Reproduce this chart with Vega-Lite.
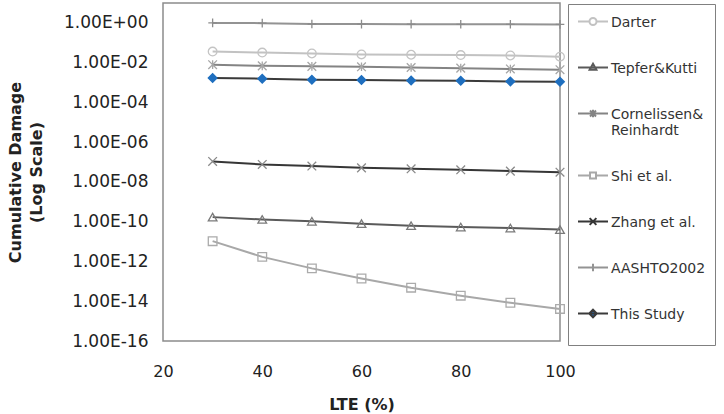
{
  "$schema": "https://vega.github.io/schema/vega-lite/v6.json",
  "width": 397,
  "height": 338,
  "autosize": {"type": "none"},
  "padding": {"left": 163, "top": 3, "right": 164, "bottom": 73},
  "background": "#ffffff",
  "config": {
    "view": {"stroke": "#8c8c8c", "strokeWidth": 1.5},
    "font": "DejaVu Sans"
  },
  "data": {
    "values": [
      {"series": "Darter", "lte": 30, "damage": 0.036},
      {"series": "Darter", "lte": 40, "damage": 0.032},
      {"series": "Darter", "lte": 50, "damage": 0.029},
      {"series": "Darter", "lte": 60, "damage": 0.026},
      {"series": "Darter", "lte": 70, "damage": 0.025},
      {"series": "Darter", "lte": 80, "damage": 0.024},
      {"series": "Darter", "lte": 90, "damage": 0.023},
      {"series": "Darter", "lte": 100, "damage": 0.020},
      {"series": "Tepfer&Kutti", "lte": 30, "damage": 1.7e-10},
      {"series": "Tepfer&Kutti", "lte": 40, "damage": 1.3e-10},
      {"series": "Tepfer&Kutti", "lte": 50, "damage": 1.05e-10},
      {"series": "Tepfer&Kutti", "lte": 60, "damage": 8.0e-11},
      {"series": "Tepfer&Kutti", "lte": 70, "damage": 6.3e-11},
      {"series": "Tepfer&Kutti", "lte": 80, "damage": 5.4e-11},
      {"series": "Tepfer&Kutti", "lte": 90, "damage": 4.8e-11},
      {"series": "Tepfer&Kutti", "lte": 100, "damage": 4.0e-11},
      {"series": "Cornelissen& Reinhardt", "lte": 30, "damage": 0.0079},
      {"series": "Cornelissen& Reinhardt", "lte": 40, "damage": 0.0069},
      {"series": "Cornelissen& Reinhardt", "lte": 50, "damage": 0.0065},
      {"series": "Cornelissen& Reinhardt", "lte": 60, "damage": 0.0062},
      {"series": "Cornelissen& Reinhardt", "lte": 70, "damage": 0.0057},
      {"series": "Cornelissen& Reinhardt", "lte": 80, "damage": 0.0053},
      {"series": "Cornelissen& Reinhardt", "lte": 90, "damage": 0.0048},
      {"series": "Cornelissen& Reinhardt", "lte": 100, "damage": 0.0044},
      {"series": "Shi et al.", "lte": 30, "damage": 1.05e-11},
      {"series": "Shi et al.", "lte": 40, "damage": 1.7e-12},
      {"series": "Shi et al.", "lte": 50, "damage": 4.5e-13},
      {"series": "Shi et al.", "lte": 60, "damage": 1.4e-13},
      {"series": "Shi et al.", "lte": 70, "damage": 4.8e-14},
      {"series": "Shi et al.", "lte": 80, "damage": 1.9e-14},
      {"series": "Shi et al.", "lte": 90, "damage": 8.4e-15},
      {"series": "Shi et al.", "lte": 100, "damage": 4.1e-15},
      {"series": "Zhang et al.", "lte": 30, "damage": 1.07e-7},
      {"series": "Zhang et al.", "lte": 40, "damage": 7.6e-8},
      {"series": "Zhang et al.", "lte": 50, "damage": 6.3e-8},
      {"series": "Zhang et al.", "lte": 60, "damage": 5.1e-8},
      {"series": "Zhang et al.", "lte": 70, "damage": 4.6e-8},
      {"series": "Zhang et al.", "lte": 80, "damage": 4.1e-8},
      {"series": "Zhang et al.", "lte": 90, "damage": 3.5e-8},
      {"series": "Zhang et al.", "lte": 100, "damage": 3.1e-8},
      {"series": "AASHTO2002", "lte": 30, "damage": 1.0},
      {"series": "AASHTO2002", "lte": 40, "damage": 0.97},
      {"series": "AASHTO2002", "lte": 50, "damage": 0.88},
      {"series": "AASHTO2002", "lte": 60, "damage": 0.87},
      {"series": "AASHTO2002", "lte": 70, "damage": 0.86},
      {"series": "AASHTO2002", "lte": 80, "damage": 0.85},
      {"series": "AASHTO2002", "lte": 90, "damage": 0.85},
      {"series": "AASHTO2002", "lte": 100, "damage": 0.84},
      {"series": "This Study", "lte": 30, "damage": 0.0017},
      {"series": "This Study", "lte": 40, "damage": 0.00156},
      {"series": "This Study", "lte": 50, "damage": 0.00138},
      {"series": "This Study", "lte": 60, "damage": 0.00133},
      {"series": "This Study", "lte": 70, "damage": 0.00125},
      {"series": "This Study", "lte": 80, "damage": 0.00122},
      {"series": "This Study", "lte": 90, "damage": 0.00114},
      {"series": "This Study", "lte": 100, "damage": 0.0011}
    ]
  },
  "encoding": {
    "x": {
      "field": "lte", "type": "quantitative",
      "scale": {"domain": [20, 100], "nice": false, "zero": false},
      "axis": {
        "title": "LTE (%)", "values": [20, 40, 60, 80, 100],
        "grid": false, "ticks": false, "domain": false,
        "labelFont": "DejaVu Sans", "labelFontSize": 16, "labelColor": "#222",
        "labelPadding": 22, "labelFlush": false,
        "titleFont": "DejaVu Sans", "titleFontWeight": "bold", "titleFontSize": 16, "titleColor": "#222",
        "titlePadding": 17
      }
    },
    "y": {
      "field": "damage", "type": "quantitative",
      "scale": {"type": "log", "domain": [1e-16, 10], "nice": false},
      "axis": {
        "title": ["Cumulative Damage", "(Log Scale)"],
        "values": [1e-16, 1e-14, 1e-12, 1e-10, 1e-8, 1e-6, 1e-4, 1e-2, 1],
        "labelExpr": "'1.00E' + (datum.value < 0.5 ? '-' : '+') + (abs(round(log(datum.value)/LN10)) < 10 ? '0' : '') + abs(round(log(datum.value)/LN10))",
        "grid": false, "ticks": false, "domain": false,
        "labelFont": "DejaVu Sans", "labelFontSize": 17, "labelColor": "#222",
        "labelPadding": 15, "labelFlush": false,
        "titleFont": "DejaVu Sans", "titleFontWeight": "bold", "titleFontSize": 16, "titleColor": "#222",
        "titleLineHeight": 21, "titleX": -140
      }
    }
  },
  "layer": [
    {
      "mark": {"type": "line", "strokeWidth": 2},
      "encoding": {
        "color": {
          "field": "series", "type": "nominal",
          "scale": {
            "domain": ["Darter", "Tepfer&Kutti", "Cornelissen& Reinhardt", "Shi et al.", "Zhang et al.", "AASHTO2002", "This Study"],
            "range": ["#c2c2c2", "#5a5a5a", "#848484", "#a8a8a8", "#363636", "#939393", "#3a3a3a"]
          },
          "legend": {
            "orient": "none", "legendX": 405, "legendY": 1, "direction": "vertical",
            "title": " ", "titleOrient": "bottom", "titlePadding": 8, "titleFontSize": 6,
            "padding": 9, "strokeColor": "#808080", "fillColor": "#ffffff",
            "symbolSize": 225, "symbolStrokeWidth": 2, "symbolOffset": 7.5, "labelOffset": 9.5,
            "rowPadding": 29, "labelFont": "DejaVu Sans", "labelFontSize": 14, "labelColor": "#333",
            "labelLimit": 200, "labelBaseline": "alphabetic",
            "labelExpr": "datum.label === 'Cornelissen& Reinhardt' ? ['Cornelissen&', 'Reinhardt'] : datum.label",
            "encode": {
              "symbols": {
                "update": {
                  "shape": {"signal": "datum.value === 'Darter' ? 'M-2,0H-0.47M0.47,0H2M-0.47,0A0.47,0.47 0 1,1 0.47,0A0.47,0.47 0 1,1 -0.47,0' : datum.value === 'Tepfer&Kutti' ? 'M-2,0H2M0,-0.5L0.45,0.3H-0.45Z' : datum.value === 'Cornelissen& Reinhardt' ? 'M-2,0H2M-0.4,-0.4L0.4,0.4M-0.4,0.4L0.4,-0.4M0,-0.5V0.5' : datum.value === 'Shi et al.' ? 'M-2,0H-0.4M0.4,0H2M-0.4,-0.4H0.4V0.4H-0.4Z' : datum.value === 'Zhang et al.' ? 'M-2,0H2M-0.45,-0.45L0.45,0.45M-0.45,0.45L0.45,-0.45' : datum.value === 'AASHTO2002' ? 'M-2,0H2M0,-0.5V0.5' : 'M-2,0H2M0,-0.5L0.5,0L0,0.5L-0.5,0Z'"},
                  "fill": {"signal": "datum.value === 'This Study' ? '#1f6fbf' : 'transparent'"},
                  "strokeWidth": {"value": 2}
                }
              },
              "labels": {"update": {"dy": {"value": 5}}}
            }
          }
        }
      }
    },
    {
      "mark": {"type": "point", "filled": false, "strokeWidth": 1.3, "size": 75, "opacity": 1},
      "encoding": {
        "shape": {
          "condition": [
            {"test": "datum.series === 'Darter'", "value": "circle"},
            {"test": "datum.series === 'Tepfer&Kutti'", "value": "triangle-up"},
            {"test": "datum.series === 'Cornelissen& Reinhardt'", "value": "M-1,-1L1,1M-1,1L1,-1M0,-1V1"},
            {"test": "datum.series === 'Shi et al.'", "value": "square"},
            {"test": "datum.series === 'Zhang et al.'", "value": "M-1,-1L1,1M-1,1L1,-1"},
            {"test": "datum.series === 'AASHTO2002'", "value": "M0,-1V1M-1,0H1"}
          ],
          "value": "diamond"
        },
        "stroke": {
          "condition": [
            {"test": "datum.series === 'Darter'", "value": "#c4c4c4"},
            {"test": "datum.series === 'Tepfer&Kutti'", "value": "#7a7a7a"},
            {"test": "datum.series === 'Cornelissen& Reinhardt'", "value": "#a6a6a6"},
            {"test": "datum.series === 'Shi et al.'", "value": "#ababab"},
            {"test": "datum.series === 'Zhang et al.'", "value": "#8a8a8a"},
            {"test": "datum.series === 'AASHTO2002'", "value": "#8c8c8c"}
          ],
          "value": "#1f6fbf"
        },
        "fill": {
          "condition": {"test": "datum.series === 'This Study'", "value": "#1f6fbf"},
          "value": "transparent"
        }
      }
    }
  ]
}
